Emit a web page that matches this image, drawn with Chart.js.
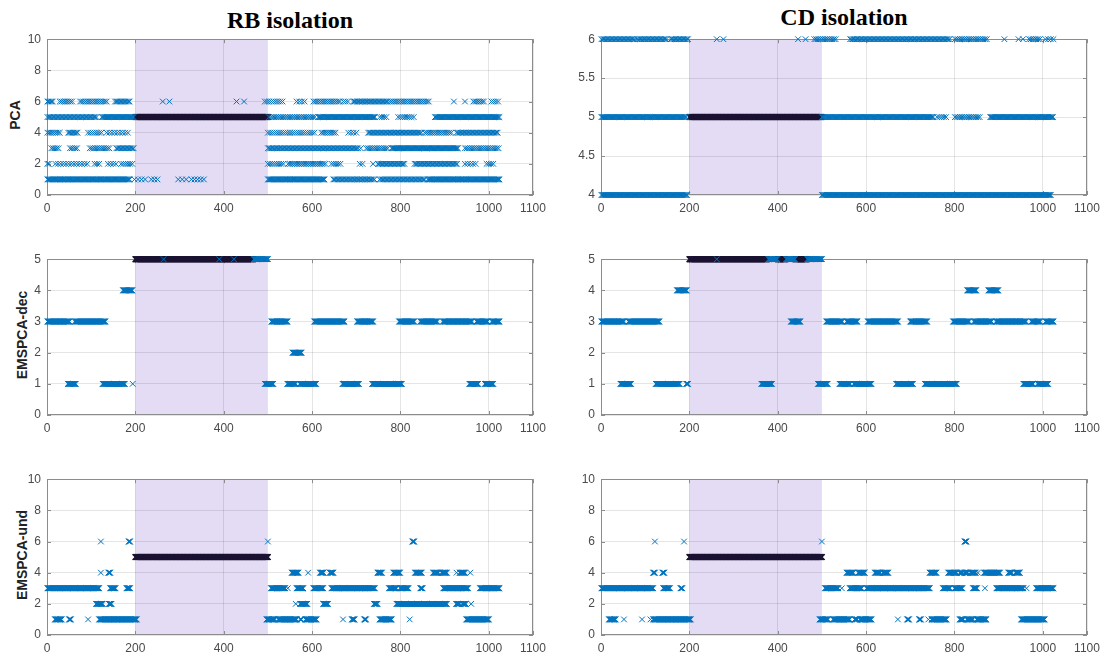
<!DOCTYPE html>
<html lang="en">
<head>
<meta charset="UTF-8">
<title>RB / CD isolation</title>
<script src="https://cdn.jsdelivr.net/npm/chart.js"></script>
<style>
  body { margin: 0; background: #fff; width: 1107px; height: 662px; position: relative; overflow: hidden;
         font-family: "Liberation Sans", Arial, sans-serif; }
  canvas { position: absolute; }
  .title { position: absolute; font-family: "Liberation Serif", "Times New Roman", serif; font-weight: bold;
           font-size: 24px; line-height: 1; transform: translateX(-50%); white-space: nowrap; color: #000; }
  .ylab { position: absolute; font-weight: bold; font-size: 14px; line-height: 1; color: #222;
          transform: translate(-50%, -50%) rotate(-90deg); white-space: nowrap; }
</style>
</head>
<body>
<div class="title" style="left:290px; top:8px">RB isolation</div>
<div class="title" style="left:844px; top:5px">CD isolation</div>
<div class="ylab" style="left:15px; top:115px">PCA</div>
<div class="ylab" style="left:22px; top:335px">EMSPCA-dec</div>
<div class="ylab" style="left:22px; top:555px">EMSPCA-und</div>

<canvas id="rbPca" width="560" height="194" style="left:0; top:26px"></canvas>
<canvas id="cdPca" width="553" height="194" style="left:554px; top:26px"></canvas>
<canvas id="rbDec" width="560" height="194" style="left:0; top:246px"></canvas>
<canvas id="cdDec" width="553" height="194" style="left:554px; top:246px"></canvas>
<canvas id="rbUnd" width="560" height="194" style="left:0; top:466px"></canvas>
<canvas id="cdUnd" width="553" height="194" style="left:554px; top:466px"></canvas>

<script>
// tick labels
var xTicks = [0, 200, 400, 600, 800, 1000, 1100];
var yTicksTen = [0, 2, 4, 6, 8, 10];
var yTicksFive = [0, 1, 2, 3, 4, 5];
var yTicksCdPca = [4, 4.5, 5, 5.5, 6];
var faultWindow = [200, 500];

// runs of samples: [first sample, last sample, isolated variable, sample step]
var rbPcaBlue = [
    [1,14,6,3],[29,60,6,4],[75,135,6,4],[154,188,6,3],[262,262,6],[277,277,6],[429,429,6],[446,446,6],
    [493,535,6,5],[565,584,6,6],[603,663,6,4],[671,682,6,5],[693,772,6,3],[776,866,6,4],[921,921,6],
    [946,946,6],[965,991,6,4],[1006,1024,6,5],
    [1,112,5,3],[124,196,5,2],[502,606,5,4],[614,742,5,2],[753,772,5,5],[795,833,5,5],[878,1024,5,2],
    [1,29,4,4],[48,71,4,3],[93,127,4,5],[135,188,4,6],[500,606,4,5],[621,655,4,4],[682,700,4,6],
    [727,848,4,3],[855,915,4,4],[927,1021,4,3],
    [10,29,3,4],[52,71,3,4],[97,142,3,4],[157,196,3,3],[500,704,3,3],[710,710,3],[723,772,3,4],
    [780,930,3,2],[946,1024,3,4],
    [1,5,2,3],[19,93,2,6],[108,119,2,5],[138,157,2,6],[168,196,2,5],[500,539,2,5],[546,633,2,4],
    [644,667,2,5],[708,719,2,6],[738,738,2],[749,810,2,3],[832,930,2,3],[946,972,2,6],[995,1014,2,5],
    [1,188,1,2],[198,222,1,8],[236,250,1,7],[297,316,1,9],[327,357,1,7],[500,629,1,2],[648,742,1,3],
    [753,855,1,3],[862,1024,1,2]
];
var rbPcaBlack = [[200,500,5]];

var cdPcaBlue = [
    [1,78,6,3],[82,150,6,3],[158,198,6,3],[262,262,6],[277,277,6],[446,446,6],[463,463,6],[483,532,6,4],
    [564,789,6,3],[801,873,6,4],[913,913,6],[945,945,6],[955,955,6],[969,994,6,4],[1006,1024,6,6],
    [1,194,5,2],[500,753,5,2],[761,785,5,5],[801,857,5,4],[881,1024,5,2],
    [1,196,4,2],[500,1018,4,2]
];
var cdPcaBlack = [[200,500,5]];

var rbDecBlue = [
    [264,264,5],[390,390,5],[423,423,5],[468,500,5],
    [172,193,4],
    [1,51,3],[63,132,3],[508,544,3],[605,673,3],[702,738,3],[797,831,3],[845,883,3],[896,962,3],
    [972,997,3],[1007,1024,3],
    [556,576,2],
    [47,65,1],[126,176,1],[194,194,1],[493,512,1],[544,563,1],[572,609,1],[669,706,1],[736,803,1],
    [956,976,1],[991,1010,1]
];
var rbDecBlack = [[200,467,5]];

var cdDecBlue = [
    [262,262,5],[379,399,5],[419,439,5],[467,500,5],
    [172,194,4],[829,849,4],[877,899,4],
    [1,52,3],[62,132,3],[430,451,3],[510,546,3],[556,580,3],[604,672,3],[700,738,3],[797,833,3],
    [844,884,3],[894,962,3],[974,994,3],[1006,1024,3],
    [44,68,1],[124,178,1],[193,197,1],[363,387,1],[491,513,1],[540,564,1],[572,612,1],[668,706,1],
    [733,805,1],[956,978,1],[988,1012,1]
];
var cdDecBlack = [[200,376,5],[400,418,5],[440,466,5]];

var rbUndBlue = [
    [122,122,6],[185,188,6],[500,500,6],[827,831,6],
    [122,122,4],[139,143,4],[554,569,4],[591,591,4],[618,626,4],[640,648,4],[748,758,4],[784,799,4],
    [833,848,4],[874,886,4],[893,905,4],[927,927,4],[934,946,4],[958,958,4],
    [1,118,3],[143,155,3],[180,188,3],[507,539,3],[545,545,3],[565,580,3],[603,625,3],[644,742,3],
    [774,791,3],[799,818,3],[845,850,3],[897,953,3],[980,1024,3],
    [111,126,2],[140,146,2],[563,563,2],[573,589,2],[625,636,2],[740,748,2],[791,905,2],[926,934,2],
    [940,948,2],[960,960,2],
    [18,33,1],[50,54,1],[93,93,1],[118,203,1],[497,516,1],[523,565,1],[573,576,1],[585,610,1],
    [670,670,1],[690,696,1],[718,722,1],[753,780,1],[821,821,1],[949,1000,1]
];
var rbUndBlack = [[200,500,5]];

var cdUndBlue = [
    [122,122,6],[188,188,6],[500,500,6],[823,827,6],
    [118,122,4],[139,143,4],[556,571,4],[582,597,4],[620,632,4],[638,650,4],[744,759,4],[786,805,4],
    [812,818,4],[822,830,4],[836,848,4],[853,853,4],[867,903,4],[922,930,4],[938,948,4],
    [1,118,3],[141,156,3],[180,184,3],[507,537,3],[545,545,3],[563,590,3],[601,744,3],[774,790,3],
    [800,818,3],[842,851,3],[869,869,3],[895,956,3],[963,963,3],[985,1024,3],
    [18,33,1],[52,52,1],[93,93,1],[112,112,1],[118,203,1],[495,514,1],[525,563,1],[574,580,1],
    [586,612,1],[672,672,1],[693,697,1],[720,724,1],[741,741,1],[748,782,1],[812,820,1],[828,842,1],
    [850,872,1],[951,1004,1]
];
var cdUndBlack = [[200,500,5]];

var azul = '#0072BD';
var preto = '#1c1433';
var corEixo = '#8c8c8c';
var corTexto = '#4a4a4a';

function expandir(runs) {
    var pts = [];
    for (var r = 0; r < runs.length; r++) {
        var passo = runs[r][3] || 1;
        for (var x = runs[r][0]; x <= runs[r][1]; x += passo) {
            pts.push({ x: x, y: runs[r][2] });
        }
    }
    return pts;
}

// plain labels, no thousands separator / forced decimals
function rotulo(v) { return String(v); }

// shaded fault window + box with inward ticks (drawn under the markers, like matlab)
var moldura = {
    id: 'moldura',
    beforeDraw: function (chart) {
        var ctx = chart.ctx, a = chart.chartArea, xs = chart.scales.x;
        var x0 = xs.getPixelForValue(faultWindow[0]);
        var x1 = xs.getPixelForValue(faultWindow[1]);
        ctx.save();
        ctx.fillStyle = '#e4dcf4';
        ctx.fillRect(x0, a.top, x1 - x0, a.bottom - a.top);
        ctx.restore();
    },
    beforeDatasetsDraw: function (chart) {
        var ctx = chart.ctx, a = chart.chartArea;
        ctx.save();
        ctx.strokeStyle = corEixo;
        ctx.lineWidth = 1;
        ctx.strokeRect(Math.round(a.left) + 0.5, Math.round(a.top) + 0.5,
            Math.round(a.right - a.left) - 1, Math.round(a.bottom - a.top) - 1);
        ctx.beginPath();
        chart.scales.x.ticks.forEach(function (t) {
            var px = Math.round(chart.scales.x.getPixelForValue(t.value)) + 0.5;
            ctx.moveTo(px, a.bottom); ctx.lineTo(px, a.bottom - 4);
            ctx.moveTo(px, a.top); ctx.lineTo(px, a.top + 4);
        });
        chart.scales.y.ticks.forEach(function (t) {
            var py = Math.round(chart.scales.y.getPixelForValue(t.value)) + 0.5;
            ctx.moveTo(a.left, py); ctx.lineTo(a.left + 4, py);
            ctx.moveTo(a.right, py); ctx.lineTo(a.right - 4, py);
        });
        ctx.stroke();
        ctx.restore();
    }
};

function painel(id, azuis, pretos, yTicks, direita) {
    new Chart(document.getElementById(id), {
        type: 'scatter',
        data: {
            datasets: [{
                data: expandir(azuis),
                pointStyle: 'crossRot', radius: 4, borderWidth: 1,
                borderColor: azul, backgroundColor: azul, clip: false
            }, {
                data: expandir(pretos),
                pointStyle: 'crossRot', radius: 4, borderWidth: 1.2,
                borderColor: preto, backgroundColor: preto, clip: false
            }]
        },
        options: {
            responsive: false,
            animation: false,
            devicePixelRatio: 1,
            events: [],
            layout: { padding: { top: 10, right: direita, left: 0, bottom: 0 } },
            plugins: { legend: { display: false }, tooltip: { enabled: false } },
            scales: {
                x: {
                    type: 'linear', min: 0, max: 1100,
                    afterBuildTicks: function (s) { s.ticks = xTicks.map(function (v) { return { value: v }; }); },
                    afterFit: function (s) { s.height = 25; },
                    grid: { color: 'rgba(0,0,0,0.1)', drawTicks: false },
                    border: { display: false },
                    ticks: { padding: 6, color: corTexto, font: { family: 'Liberation Sans', size: 12 },
                             maxRotation: 0, callback: rotulo }
                },
                y: {
                    type: 'linear', min: yTicks[0], max: yTicks[yTicks.length - 1],
                    afterBuildTicks: function (s) { s.ticks = yTicks.map(function (v) { return { value: v }; }); },
                    afterFit: function (s) { s.width = 47; },
                    grid: { color: 'rgba(0,0,0,0.1)', drawTicks: false },
                    border: { display: false },
                    ticks: { padding: 6, color: corTexto, font: { family: 'Liberation Sans', size: 12 },
                             callback: rotulo }
                }
            }
        },
        plugins: [moldura]
    });
}

painel('rbPca', rbPcaBlue, rbPcaBlack, yTicksTen, 27);
painel('cdPca', cdPcaBlue, cdPcaBlack, yTicksCdPca, 20);
painel('rbDec', rbDecBlue, rbDecBlack, yTicksFive, 27);
painel('cdDec', cdDecBlue, cdDecBlack, yTicksFive, 20);
painel('rbUnd', rbUndBlue, rbUndBlack, yTicksTen, 27);
painel('cdUnd', cdUndBlue, cdUndBlack, yTicksTen, 20);
</script>
</body>
</html>
